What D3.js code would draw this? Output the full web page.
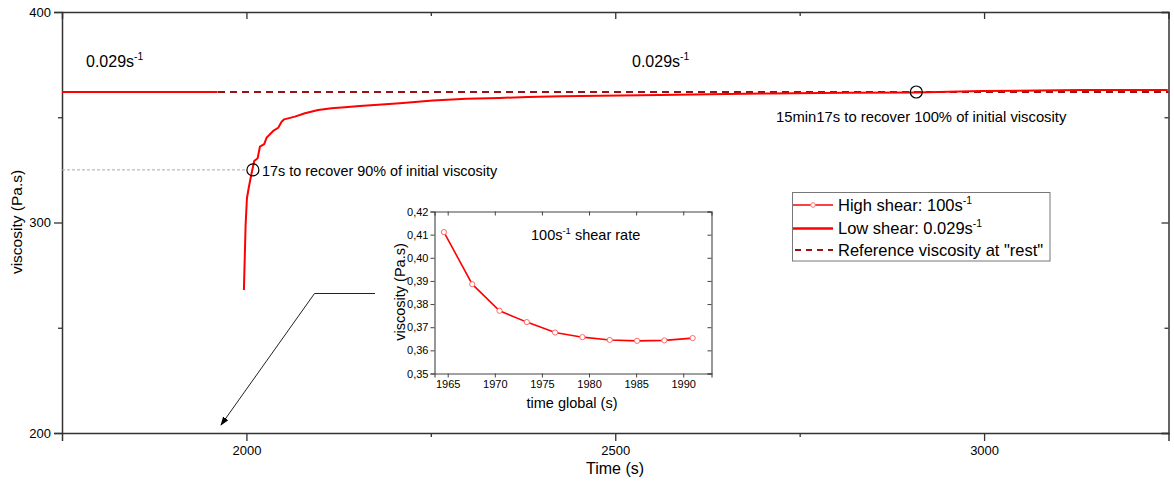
<!DOCTYPE html>
<html><head><meta charset="utf-8">
<script src="https://cdn.jsdelivr.net/npm/d3@7"></script>
<style>body{margin:0;background:#fff}svg{display:block;font-family:"Liberation Sans",Arial,sans-serif}</style>
</head><body><svg id="c" width="1174" height="486"></svg>
<script>
// ---- data ----
const xTicksMain = [2000, 2500, 3000];
const xMinorMain = [2250, 2750];
const yTicksMain = [200, 300, 400];
const yMinorMain = [250, 350];
const refViscosity = 362;
// low shear (0.029 s^-1) — null marks the gap during the high shear step
const lowShearTime = [1750, 1961, null, 1996.6, 1998.9, 2000.7, 2003.4, 2007.0, 2010.6, 2015.2, 2018.3, 2024.1, 2027.4, 2036.3, 2043.1, 2047.7, 2051.2, 2065.7, 2079.3, 2097.3, 2115.4, 2133.5, 2153.8, 2208.0, 2252.7, 2298.4, 2343.5, 2381.4, 2427.1, 2560.3, 2628.0, 2709.3, 2813.3, 2908.1, 2996.2, 3131.7, 3249];
const lowShearVisc = [362, 362, null, 267.9, 298.8, 311.5, 317.0, 323.4, 329.2, 330.5, 336.0, 337.2, 340.3, 343.5, 345.0, 347.9, 349.0, 350.3, 351.9, 353.4, 354.3, 354.7, 355.3, 356.6, 357.9, 358.8, 359.2, 359.6, 360.0, 360.6, 360.9, 361.3, 361.6, 361.8, 362.5, 362.9, 363.0];
// high shear (100 s^-1) inset
const highShearTime = [1964.6, 1967.6, 1970.5, 1973.4, 1976.4, 1979.3, 1982.2, 1985.1, 1988.0, 1991.0];
const highShearVisc = [0.4111, 0.3886, 0.3771, 0.3722, 0.3677, 0.3657, 0.3645, 0.3641, 0.3643, 0.3653];
const insetXTicks = [1965, 1970, 1975, 1980, 1985, 1990];
const insetYTicks = [0.35, 0.36, 0.37, 0.38, 0.39, 0.40, 0.41, 0.42];
const mark90 = {t: 2008.8, v: 325};
const mark100 = {t: 2908.1, v: 362};

const svg = d3.select("#c");
const axisCol = "#333";
// ---- main scales ----
const x = d3.scaleLinear().domain([1750, 3250]).range([62, 1168.5]);
const y = d3.scaleLinear().domain([200, 400]).range([433, 12]);

function styleAxis(g){ g.select(".domain").attr("stroke", axisCol).attr("stroke-width", 1.5);
  g.selectAll(".tick line").attr("stroke", axisCol).attr("stroke-width", 1.3);
  g.selectAll("text").attr("fill", "#000"); }

const gx = svg.append("g").attr("transform", "translate(0,433)")
  .call(d3.axisBottom(x).tickValues(xTicksMain).tickSize(8).tickPadding(5).tickFormat(d3.format("d")))
  .attr("font-size", 13).attr("font-family", "Liberation Sans, Arial");
styleAxis(gx);
svg.append("g").attr("transform", "translate(0,433)").call(d3.axisBottom(x).tickValues(xMinorMain).tickSize(4).tickFormat(""))
  .call(g=>{g.select(".domain").remove(); g.selectAll("line").attr("stroke", axisCol).attr("stroke-width",1.3);});
const gt = svg.append("g").attr("transform", "translate(0,12)")
  .call(d3.axisBottom(x).tickValues(xTicksMain).tickSize(7).tickFormat(""));
styleAxis(gt);
svg.append("g").attr("transform", "translate(0,12)").call(d3.axisBottom(x).tickValues(xMinorMain).tickSize(4).tickFormat(""))
  .call(g=>{g.select(".domain").remove(); g.selectAll("line").attr("stroke", axisCol).attr("stroke-width",1.3);});
const gy = svg.append("g").attr("transform", "translate(62,0)")
  .call(d3.axisLeft(y).tickValues(yTicksMain).tickSize(8).tickPadding(3).tickFormat(d3.format("d")))
  .attr("font-size", 13).attr("font-family", "Liberation Sans, Arial");
styleAxis(gy);
svg.append("g").attr("transform", "translate(62,0)").call(d3.axisLeft(y).tickValues(yMinorMain).tickSize(4).tickFormat(""))
  .call(g=>{g.select(".domain").remove(); g.selectAll("line").attr("stroke", axisCol).attr("stroke-width",1.3);});
const gr = svg.append("g").attr("transform", "translate(1168.5,0)")
  .call(d3.axisLeft(y).tickValues(yTicksMain).tickSize(7).tickFormat(""));
styleAxis(gr);
svg.append("g").attr("transform", "translate(1168.5,0)").call(d3.axisLeft(y).tickValues(yMinorMain).tickSize(4).tickFormat(""))
  .call(g=>{g.select(".domain").remove(); g.selectAll("line").attr("stroke", axisCol).attr("stroke-width",1.3);});

// axis titles
svg.append("text").attr("x", 615).attr("y", 474).attr("text-anchor", "middle").attr("font-size", 16).text("Time (s)");
svg.append("text").attr("transform", "translate(22,222) rotate(-90)").attr("text-anchor", "middle").attr("font-size", 15.5).text("viscosity (Pa.s)");

// gray guide to 90% point
svg.append("line").attr("x1", x(1750)).attr("x2", x(mark90.t) - 6).attr("y1", y(mark90.v)).attr("y2", y(mark90.v))
  .attr("stroke", "#aaa").attr("stroke-width", 1).attr("stroke-dasharray", "3,2");

// reference dashed
svg.append("line").attr("x1", x(1750)).attr("x2", x(3250)).attr("y1", y(refViscosity)).attr("y2", y(refViscosity))
  .attr("stroke", "#9b1010").attr("stroke-width", 2).attr("stroke-dasharray", "7,5");

// low shear line
const lowData = lowShearTime.map((t, i) => ({t, v: lowShearVisc[i]}));
svg.append("path").datum(lowData)
  .attr("d", d3.line().defined(d => d.t != null).x(d => x(d.t)).y(d => y(d.v)))
  .attr("fill", "none").attr("stroke", "#ff0000").attr("stroke-width", 2).attr("stroke-linejoin", "round");

// markers
svg.append("circle").attr("cx", x(mark90.t)).attr("cy", y(mark90.v)).attr("r", 6).attr("fill", "none").attr("stroke", "#000").attr("stroke-width", 1.2);
svg.append("circle").attr("cx", x(mark100.t)).attr("cy", y(mark100.v)).attr("r", 6).attr("fill", "none").attr("stroke", "#000").attr("stroke-width", 1.2);

// annotations
function rateText(xp, yp, base, size){
  const t = svg.append("text").attr("x", xp).attr("y", yp).attr("font-size", size);
  t.append("tspan").text(base);
  t.append("tspan").attr("dy", -7).attr("font-size", size*0.65).text("-1");
  return t;
}
rateText(86, 67, "0.029s", 16);
rateText(632, 67, "0.029s", 16);
svg.append("text").attr("x", 262).attr("y", 176).attr("font-size", 14.4).text("17s to recover 90% of initial viscosity");
svg.append("text").attr("x", 776).attr("y", 122).attr("font-size", 14.8).text("15min17s to recover 100% of initial viscosity");

// arrow
svg.append("defs").append("marker").attr("id", "ah").attr("viewBox", "0 0 10 10").attr("refX", 9).attr("refY", 5)
  .attr("markerWidth", 9).attr("markerHeight", 9).attr("orient", "auto-start-reverse")
  .append("path").attr("d", "M0,1.5 L10,5 L0,8.5 Z").attr("fill", "#000");
svg.append("polyline").attr("points", "375,293.5 314.5,293.5 221,425").attr("fill", "none")
  .attr("stroke", "#222").attr("stroke-width", 1).attr("marker-end", "url(#ah)");

// legend
const lg = svg.append("g");
lg.append("rect").attr("x", 792.5).attr("y", 192.5).attr("width", 257.5).attr("height", 68.5).attr("fill", "#fff").attr("stroke", "#777").attr("stroke-width", 1);
const legendRows = [
  {y: 205, label: "High shear: 100s", sup: "-1", type: "marker"},
  {y: 228.5, label: "Low shear: 0.029s", sup: "-1", type: "solid"},
  {y: 250, label: "Reference viscosity at \"rest\"", sup: "", type: "dash"}
];
legendRows.forEach(r => {
  if (r.type === "marker") {
    lg.append("line").attr("x1", 793).attr("x2", 833).attr("y1", r.y).attr("y2", r.y).attr("stroke", "#ff0000").attr("stroke-width", 1.3);
    lg.append("circle").attr("cx", 813).attr("cy", r.y).attr("r", 2.3).attr("fill", "#fff").attr("stroke", "#ff7070").attr("stroke-width", 1);
  } else if (r.type === "solid") {
    lg.append("line").attr("x1", 793).attr("x2", 833).attr("y1", r.y).attr("y2", r.y).attr("stroke", "#ff0000").attr("stroke-width", 2.5);
  } else {
    lg.append("line").attr("x1", 795).attr("x2", 833).attr("y1", r.y).attr("y2", r.y).attr("stroke", "#9b1010").attr("stroke-width", 2).attr("stroke-dasharray", "6,5");
  }
  const t = lg.append("text").attr("x", 838).attr("y", r.y + 5.5).attr("font-size", 16.5);
  t.append("tspan").text(r.label);
  if (r.sup) t.append("tspan").attr("dy", -7).attr("font-size", 10.5).text(r.sup);
});

// ---- inset ----
const ix = d3.scaleLinear().domain([1963.6, 1993]).range([434.5, 711.5]);
const iy = d3.scaleLinear().domain([0.35, 0.42]).range([373.5, 211.5]);
const fmtC = d => d3.format(".2f")(d).replace(".", ",");
const ig = svg.append("g").attr("font-family", "Liberation Sans, Arial");
ig.append("rect").attr("x", 434.5).attr("y", 211.5).attr("width", 277).attr("height", 162).attr("fill", "#fff").attr("stroke", "none");
const ixb = ig.append("g").attr("transform", "translate(0,373.5)").call(d3.axisBottom(ix).tickValues(insetXTicks).tickSize(4).tickPadding(3).tickFormat(d3.format("d"))).attr("font-size", 11);
const ixt = ig.append("g").attr("transform", "translate(0,211.5)").call(d3.axisBottom(ix).tickValues(insetXTicks).tickSize(4).tickFormat(""));
const iyl = ig.append("g").attr("transform", "translate(434.5,0)").call(d3.axisLeft(iy).tickValues(insetYTicks).tickSize(4).tickPadding(2).tickFormat(fmtC)).attr("font-size", 11);
const iyr = ig.append("g").attr("transform", "translate(711.5,0)").call(d3.axisLeft(iy).tickValues(insetYTicks).tickSize(4).tickFormat(""));
[ixb, ixt, iyl, iyr].forEach(g => { g.select(".domain").attr("stroke", "#444").attr("stroke-width", 1.1);
  g.selectAll(".tick line").attr("stroke", "#444").attr("stroke-width", 1); g.selectAll("text").attr("fill", "#000"); });
const hiData = highShearTime.map((t, i) => ({t, v: highShearVisc[i]}));
ig.append("path").datum(hiData).attr("d", d3.line().x(d => ix(d.t)).y(d => iy(d.v)))
  .attr("fill", "none").attr("stroke", "#ff0000").attr("stroke-width", 1.6);
ig.selectAll("circle.m").data(hiData).join("circle").attr("class", "m").attr("cx", d => ix(d.t)).attr("cy", d => iy(d.v))
  .attr("r", 2.6).attr("fill", "#fff").attr("stroke", "#ff6a6a").attr("stroke-width", 1);
const it = ig.append("text").attr("x", 531).attr("y", 240).attr("font-size", 14.5);
it.append("tspan").text("100s");
it.append("tspan").attr("dy", -6).attr("font-size", 9.5).text("-1");
it.append("tspan").attr("dy", 6).text(" shear rate");
ig.append("text").attr("x", 572).attr("y", 408).attr("text-anchor", "middle").attr("font-size", 14.5).text("time global (s)");
ig.append("text").attr("transform", "translate(405,292) rotate(-90)").attr("text-anchor", "middle").attr("font-size", 14.5).text("viscosity (Pa.s)");
</script></body></html>
